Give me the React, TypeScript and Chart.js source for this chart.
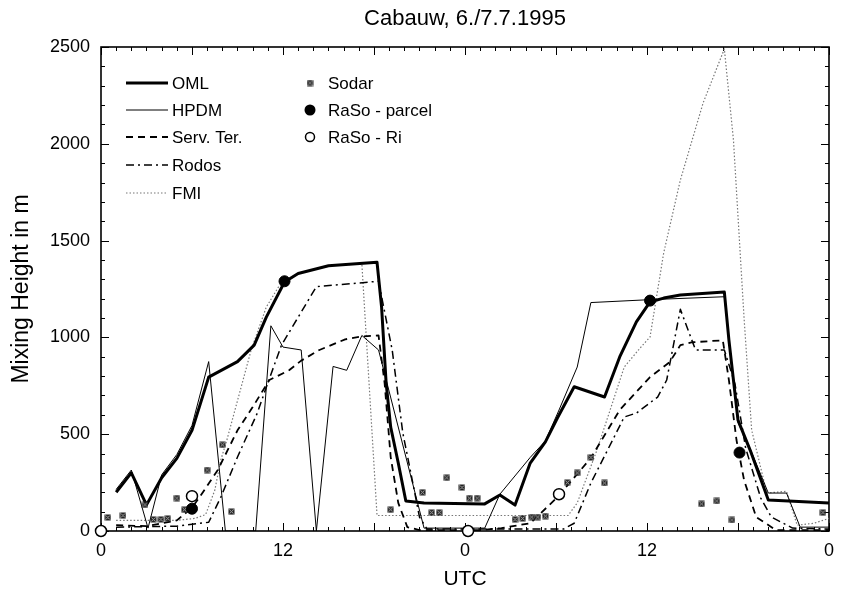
import { useEffect, useRef } from "react";
import { Chart, registerables } from "chart.js";

Chart.register(...registerables);

const FONT = "'Liberation Sans', Arial, Helvetica, sans-serif";

// Model curves: hour (UTC, running over two days) and mixing height in m
const omlHours = [1, 2, 3, 4, 5, 6, 7.1, 9, 10.1, 10.9, 12.1, 13, 15, 18.2, 18.5, 18.8, 19.1, 19.6, 20.1, 21.3, 25.3, 26.3, 27.3, 28.3, 29.3, 30.1, 31.2, 33.2, 34.2, 35.3, 36.2, 37.1, 38.2, 41.1, 41.4, 42.0, 42.8, 44.0, 48];
const omlValues = [200, 300, 135, 275, 375, 520, 795, 875, 960, 1105, 1286, 1330, 1370, 1388, 1157, 764, 537, 351, 155, 145, 140, 186, 134, 351, 460, 585, 745, 692, 899, 1080, 1183, 1203, 1219, 1234, 987, 573, 418, 160, 145];

const hpdmHours = [1, 2, 3.1, 4, 5, 6, 7.1, 8.2, 10.2, 11.2, 12, 13.2, 14.2, 15.3, 16.2, 17.2, 18.3, 21.3, 25.3, 26.3, 28.3, 29.3, 30.2, 31.4, 32.3, 36.2, 41.1, 42.0, 42.8, 44.0, 45.2, 46.1, 48];
const hpdmValues = [215, 315, 15, 290, 395, 545, 875, 0, 0, 1060, 950, 935, 0, 850, 830, 1010, 935, 15, 15, 190, 380, 465, 625, 847, 1180, 1195, 1210, 560, 425, 196, 196, 20, 20];

const servTerHours = [1, 3, 5, 6, 6.5, 7.7, 9, 10, 11.1, 12.4, 13.2, 14.4, 16.1, 17.2, 18.3, 18.7, 19.1, 19.6, 20.2, 21, 25, 26.4, 28.3, 30.1, 32.3, 34.2, 36.2, 37.5, 38.2, 39, 41, 41.4, 41.9, 42.4, 43.2, 44.5, 48];
const servTerValues = [30, 25, 55, 120, 175, 315, 520, 640, 780, 830, 880, 935, 990, 1005, 1010, 764, 382, 145, 20, 5, 5, 15, 40, 175, 377, 625, 795, 873, 960, 975, 985, 780, 470, 263, 72, 5, 5];

const rodosHours = [1, 5, 7.1, 7.9, 9, 10.3, 11, 11.9, 14.2, 18.3, 19.2, 19.9, 20.3, 21, 21.5, 30.5, 31.2, 32.3, 33.4, 34.5, 35.3, 36.7, 37.3, 38.2, 39.2, 41.1, 41.8, 42.5, 43.5, 44.2, 45.6, 48];
const rodosValues = [20, 25, 45, 175, 382, 608, 765, 960, 1262, 1290, 935, 506, 351, 72, 10, 10, 40, 248, 418, 589, 609, 692, 780, 1145, 935, 935, 760, 430, 170, 72, 15, 10];

const fmiHours = [1, 5, 6.2, 6.9, 7.5, 7.9, 8.3, 9.9, 10.9, 11.7, 12.1, 13, 15, 17.2, 18.2, 30.8, 31.4, 32.7, 34.5, 35.6, 36.2, 37.1, 38.2, 39.7, 41.1, 41.7, 42.4, 42.9, 43.9, 45.2, 45.9, 47, 48];
const fmiValues = [55, 55, 65, 85, 210, 367, 470, 935, 1157, 1260, 1285, 1330, 1370, 1380, 80, 80, 145, 418, 847, 950, 1002, 1436, 1813, 2211, 2490, 2020, 1100, 522, 196, 205, 30, 40, 65];

// Observations
const sodarHours = [0.45, 1.45, 2.9, 3.45, 3.95, 4.4, 5.0, 5.5, 7.0, 8.0, 8.6, 19.1, 21.2, 21.8, 22.3, 22.8, 23.8, 24.3, 24.8, 27.3, 27.8, 28.4, 28.8, 29.3, 30.75, 31.4, 32.3, 33.2, 39.6, 40.6, 41.6, 47.6];
const sodarValues = [70, 80, 135, 60, 60, 65, 170, 110, 315, 445, 100, 110, 200, 95, 95, 275, 225, 170, 170, 60, 65, 72, 72, 77, 250, 300, 380, 248, 140, 155, 57, 95];

const parcelHours = [6.0, 12.1, 36.2, 42.1];
const parcelValues = [115, 1290, 1190, 405];

const riHours = [0, 6.0, 24.2, 30.2];
const riValues = [0, 180, 0, 190];

// Axis labelling
const xTickLabels: Record<number, string> = { 0: "0", 12: "12", 24: "0", 36: "12", 48: "0" };
const titleText = "Cabauw, 6./7.7.1995";
const xTitle = "UTC";
const yTitle = "Mixing Height in m";

const pts = (xs: number[], ys: number[]) => xs.map((x, i) => ({ x, y: ys[i] }));

function makeSodarMarker(): HTMLCanvasElement {
  const c = document.createElement("canvas");
  c.width = 7;
  c.height = 7;
  const g = c.getContext("2d")!;
  g.fillStyle = "#222";
  g.fillRect(0.5, 0.5, 6, 6);
  g.strokeStyle = "#aaa";
  g.lineWidth = 1;
  g.beginPath();
  g.moveTo(1.5, 1.5);
  g.lineTo(5.5, 5.5);
  g.moveTo(5.5, 1.5);
  g.lineTo(1.5, 5.5);
  g.stroke();
  return c;
}

const lineStyles = {
  oml: { color: "#000", width: 3, dash: [] as number[] },
  hpdm: { color: "#000", width: 1, dash: [] as number[] },
  serv: { color: "#000", width: 1.8, dash: [7, 5] },
  rodos: { color: "#000", width: 1.5, dash: [8, 4, 2, 4] },
  fmi: { color: "#777", width: 1.2, dash: [1.5, 2] },
};

export default function App() {
  const ref = useRef<HTMLCanvasElement>(null);

  useEffect(() => {
    const canvas = ref.current;
    if (!canvas) return;
    const sodarImg = makeSodarMarker();

    // Frame with inward ticks on all four sides
    const framePlugin = {
      id: "frame",
      beforeDatasetsDraw(chart: any) {
        const { ctx, chartArea: a, scales } = chart;
        const x = scales.x;
        const y = scales.y;
        ctx.save();
        ctx.strokeStyle = "#000";
        ctx.lineWidth = 1;
        ctx.beginPath();
        for (let h = 0; h <= 48; h++) {
          const px = Math.round(x.getPixelForValue(h)) + 0.5;
          const len = h % 6 === 0 ? 8 : 4;
          ctx.moveTo(px, a.bottom);
          ctx.lineTo(px, a.bottom - len);
          ctx.moveTo(px, a.top);
          ctx.lineTo(px, a.top + len);
        }
        for (let m = 0; m <= 2500; m += 100) {
          const py = Math.round(y.getPixelForValue(m)) + 0.5;
          const len = m % 500 === 0 ? 8 : 4;
          ctx.moveTo(a.left, py);
          ctx.lineTo(a.left + len, py);
          ctx.moveTo(a.right, py);
          ctx.lineTo(a.right - len, py);
        }
        ctx.stroke();
        ctx.lineWidth = 1.6;
        ctx.strokeRect(a.left, a.top, a.right - a.left, a.bottom - a.top);
        ctx.restore();
      },
    };

    // Title, axis titles and legend
    const textPlugin = {
      id: "texts",
      afterDraw(chart: any) {
        const { ctx, chartArea: a } = chart;
        ctx.save();
        ctx.fillStyle = "#000";
        ctx.textAlign = "center";
        ctx.textBaseline = "middle";
        ctx.font = `22px ${FONT}`;
        ctx.fillText(titleText, (a.left + a.right) / 2, 19);
        ctx.font = `21px ${FONT}`;
        ctx.fillText(xTitle, (a.left + a.right) / 2, 579);
        ctx.save();
        ctx.font = `23px ${FONT}`;
        ctx.translate(22, (a.top + a.bottom) / 2);
        ctx.rotate(-Math.PI / 2);
        ctx.fillText(yTitle, 0, 0);
        ctx.restore();

        // legend, left column: model lines
        const rows = [83, 110, 137, 165, 193];
        const entries: [string, keyof typeof lineStyles][] = [
          ["OML", "oml"],
          ["HPDM", "hpdm"],
          ["Serv. Ter.", "serv"],
          ["Rodos", "rodos"],
          ["FMI", "fmi"],
        ];
        ctx.font = `17px ${FONT}`;
        ctx.textAlign = "left";
        entries.forEach(([label, key], i) => {
          const st = lineStyles[key];
          ctx.save();
          ctx.strokeStyle = st.color;
          ctx.lineWidth = st.width;
          ctx.setLineDash(st.dash);
          ctx.beginPath();
          ctx.moveTo(126, rows[i]);
          ctx.lineTo(168, rows[i]);
          ctx.stroke();
          ctx.restore();
          ctx.fillText(label, 172, rows[i] + 1);
        });

        // legend, right column: observations
        const mx = 310;
        ctx.drawImage(sodarImg, mx - 3.5, rows[0] - 3.5);
        ctx.beginPath();
        ctx.arc(mx, rows[1], 5.5, 0, Math.PI * 2);
        ctx.fill();
        ctx.beginPath();
        ctx.arc(mx, rows[2], 4.5, 0, Math.PI * 2);
        ctx.lineWidth = 1.5;
        ctx.strokeStyle = "#000";
        ctx.stroke();
        ctx.fillText("Sodar", 328, rows[0] + 1);
        ctx.fillText("RaSo - parcel", 328, rows[1] + 1);
        ctx.fillText("RaSo - Ri", 328, rows[2] + 1);
        ctx.restore();
      },
    };

    const lineDs = (label: string, key: keyof typeof lineStyles, xs: number[], ys: number[]) => {
      const st = lineStyles[key];
      return {
        type: "line" as const,
        label,
        data: pts(xs, ys),
        borderColor: st.color,
        borderWidth: st.width,
        borderDash: st.dash,
        borderJoinStyle: "round" as const,
        pointRadius: 0,
        fill: false,
        tension: 0,
      };
    };

    const chart = new Chart(canvas, {
      type: "line",
      data: {
        datasets: [
          {
            type: "scatter",
            label: "RaSo - Ri",
            data: pts(riHours, riValues),
            pointStyle: "circle",
            pointRadius: 5.5,
            pointBackgroundColor: "#fff",
            pointBorderColor: "#000",
            pointBorderWidth: 1.5,
            showLine: false,
            clip: false,
          } as any,
          {
            type: "scatter",
            label: "RaSo - parcel",
            data: pts(parcelHours, parcelValues),
            pointStyle: "circle",
            pointRadius: 5.5,
            pointBackgroundColor: "#000",
            pointBorderColor: "#000",
            pointBorderWidth: 1,
            showLine: false,
            clip: false,
          } as any,
          {
            type: "scatter",
            label: "Sodar",
            data: pts(sodarHours, sodarValues),
            pointStyle: sodarImg,
            pointRadius: 3.5,
            showLine: false,
            clip: false,
          } as any,
          lineDs("OML", "oml", omlHours, omlValues),
          lineDs("HPDM", "hpdm", hpdmHours, hpdmValues),
          lineDs("Serv. Ter.", "serv", servTerHours, servTerValues),
          lineDs("Rodos", "rodos", rodosHours, rodosValues),
          lineDs("FMI", "fmi", fmiHours, fmiValues),
        ],
      },
      options: {
        responsive: false,
        animation: false,
        devicePixelRatio: 1,
        layout: { padding: { left: 0, right: 10, top: 47, bottom: 0 } },
        plugins: {
          legend: { display: false },
          tooltip: { enabled: false },
          title: { display: false },
        },
        scales: {
          x: {
            type: "linear",
            min: 0,
            max: 48,
            grid: { display: false, drawTicks: false },
            border: { display: false },
            ticks: {
              stepSize: 12,
              autoSkip: false,
              maxRotation: 0,
              padding: 9,
              color: "#000",
              font: { family: FONT, size: 18 },
              callback: (v: any) => xTickLabels[Number(v)] ?? "",
            },
            afterFit: (s: any) => {
              s.height = 61;
            },
          },
          y: {
            type: "linear",
            min: 0,
            max: 2500,
            grid: { display: false, drawTicks: false },
            border: { display: false },
            ticks: {
              stepSize: 500,
              padding: 11,
              color: "#000",
              font: { family: FONT, size: 18 },
              callback: (v: any) => String(v),
            },
            afterFit: (s: any) => {
              s.width = 101;
            },
          },
        },
      },
      plugins: [framePlugin, textPlugin],
    });

    return () => chart.destroy();
  }, []);

  return (
    <div style={{ position: "fixed", left: 0, top: 0, width: 843, height: 592, background: "#fff" }}>
      <canvas ref={ref} width={843} height={592} style={{ display: "block", width: 843, height: 592 }} />
    </div>
  );
}
